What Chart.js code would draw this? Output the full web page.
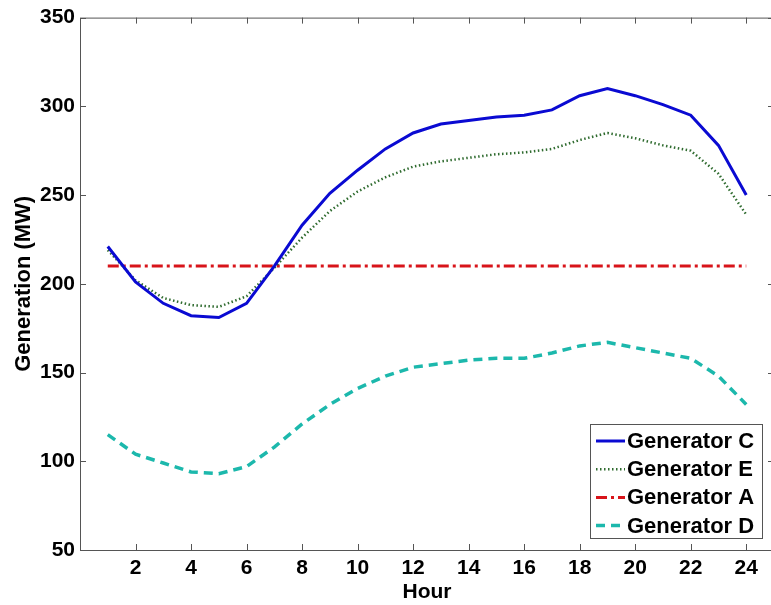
<!DOCTYPE html>
<html>
<head>
<meta charset="utf-8">
<script src="https://cdn.jsdelivr.net/npm/chart.js@4/dist/chart.umd.min.js"></script>
<style>
  html, body { margin: 0; padding: 0; background: #fff; overflow: hidden; }
  #wrap { width: 776px; height: 605px; }
</style>
</head>
<body>
<div id="wrap"><canvas id="genChart" width="776" height="605"></canvas></div>
<script>
var hours = [1,2,3,4,5,6,7,8,9,10,11,12,13,14,15,16,17,18,19,20,21,22,23,24];
var genC = [221,201,189,182,181,189,210,233,251,264,276,285,290,292,294,295,298,306,310,306,301,295,278,250];
var genE = [219,202,192,188,187,193,209,226,241,252,260,266,269,271,273,274,276,281,285,282,278,275,262,239];
var genA = [210,210,210,210,210,210,210,210,210,210,210,210,210,210,210,210,210,210,210,210,210,210,210,210];
var genD = [115,104,99,94,93,97,108,121,132,141,148,153,155,157,158,158,161,165,167,164,161,158,148,132];
var xTicks = [2,4,6,8,10,12,14,16,18,20,22,24];
var yTicks = [50,100,150,200,250,300,350];

var FONT = "'Liberation Sans', Arial, sans-serif";

function pts(vals) {
  return hours.map(function (h, i) { return { x: h, y: vals[i] }; });
}

// MATLAB style box with inward ticks
var framePlugin = {
  id: 'frame',
  afterDatasetsDraw: function (chart) {
    var ctx = chart.ctx, a = chart.chartArea;
    var xs = chart.scales.x, ys = chart.scales.y;
    ctx.save();
    ctx.strokeStyle = '#555';
    ctx.lineWidth = 1;
    ctx.strokeRect(a.left + 0.5, a.top + 0.5, a.right - a.left, a.bottom - a.top);
    ctx.beginPath();
    xTicks.forEach(function (v) {
      var px = Math.round(xs.getPixelForValue(v)) + 0.5;
      ctx.moveTo(px, a.bottom); ctx.lineTo(px, a.bottom - 6);
      ctx.moveTo(px, a.top); ctx.lineTo(px, a.top + 6);
    });
    yTicks.forEach(function (v) {
      var py = Math.round(ys.getPixelForValue(v)) + 0.5;
      ctx.moveTo(a.left, py); ctx.lineTo(a.left + 6, py);
      ctx.moveTo(a.right, py); ctx.lineTo(a.right - 6, py);
    });
    ctx.stroke();
    ctx.restore();
  }
};

var legendPlugin = {
  id: 'boxLegend',
  afterDraw: function (chart) {
    var ctx = chart.ctx;
    var bx = 590, by = 424, bw = 172, bh = 114;
    ctx.save();
    ctx.fillStyle = '#fff';
    ctx.fillRect(bx, by, bw, bh);
    ctx.strokeStyle = '#555';
    ctx.lineWidth = 1;
    ctx.strokeRect(bx + 0.5, by + 0.5, bw, bh);
    ctx.font = 'bold 22px ' + FONT;
    ctx.textBaseline = 'middle';
    chart.data.datasets.forEach(function (ds, i) {
      var cy = 441 + i * 28.2;
      ctx.strokeStyle = ds.borderColor;
      ctx.lineWidth = ds.borderWidth;
      ctx.setLineDash(ds.borderDash || []);
      ctx.beginPath();
      ctx.moveTo(596, cy); ctx.lineTo(625, cy);
      ctx.stroke();
      ctx.setLineDash([]);
      ctx.fillStyle = '#000';
      ctx.fillText(ds.label, 627, cy + 1);
    });
    ctx.restore();
  }
};

new Chart(document.getElementById('genChart'), {
  type: 'line',
  data: {
    datasets: [
      { label: 'Generator C', data: pts(genC), borderColor: '#0a0ad2', borderWidth: 3, borderDash: [] },
      { label: 'Generator E', data: pts(genE), borderColor: '#2f6b2f', borderWidth: 2.5, borderDash: [1.5, 2.5] },
      { label: 'Generator A', data: pts(genA), borderColor: '#d8141a', borderWidth: 3, borderDash: [11, 4, 3, 4] },
      { label: 'Generator D', data: pts(genD), borderColor: '#1cb8ac', borderWidth: 3.5, borderDash: [9, 6] }
    ]
  },
  options: {
    responsive: false,
    animation: false,
    layout: { padding: { top: 17, right: 2, left: 0, bottom: 0 } },
    elements: { point: { radius: 0 }, line: { tension: 0, fill: false } },
    plugins: { legend: { display: false }, tooltip: { enabled: false } },
    scales: {
      x: {
        type: 'linear', min: 0, max: 25,
        afterBuildTicks: function (s) { s.ticks = xTicks.map(function (v) { return { value: v }; }); },
        afterFit: function (s) { s.height = 55; },
        grid: { display: false, drawTicks: false },
        border: { display: false },
        ticks: { color: '#000', padding: 6, maxRotation: 0, autoSkip: false, font: { family: FONT, size: 21, weight: 'bold' } },
        title: { display: true, text: 'Hour', color: '#000', padding: { top: -4, bottom: 0 }, font: { family: FONT, size: 21, weight: 'bold' } }
      },
      y: {
        min: 50, max: 350,
        afterBuildTicks: function (s) { s.ticks = yTicks.map(function (v) { return { value: v }; }); },
        afterFit: function (s) { s.width = 80; },
        grid: { display: false, drawTicks: false },
        border: { display: false },
        ticks: { color: '#000', padding: 5, font: { family: FONT, size: 21, weight: 'bold' } },
        title: { display: true, text: 'Generation (MW)', color: '#000', padding: { top: 11, bottom: 0 }, font: { family: FONT, size: 22, weight: 'bold' } }
      }
    }
  },
  plugins: [framePlugin, legendPlugin]
});
</script>
</body>
</html>
